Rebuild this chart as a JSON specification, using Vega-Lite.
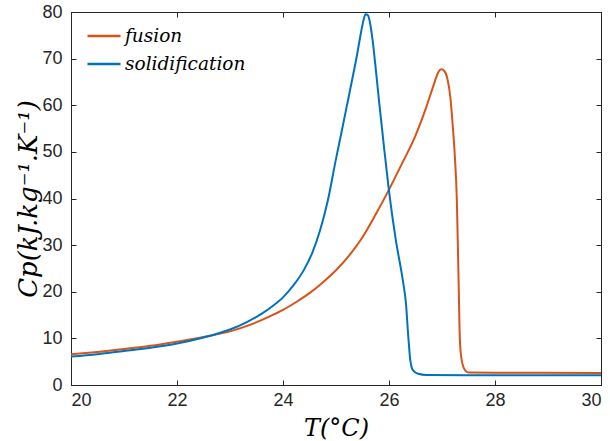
{
  "$schema": "https://vega.github.io/schema/vega-lite/v6.json",
  "width": 530,
  "height": 373,
  "autosize": {"type": "none"},
  "padding": {"left": 71, "top": 12, "right": 9, "bottom": 56},
  "background": "white",
  "config": {
    "view": {"stroke": "#262626", "strokeWidth": 1},
    "axis": {
      "domainColor": "#262626",
      "tickColor": "#262626",
      "labelColor": "#262626",
      "titleColor": "#000000",
      "labelFont": "Liberation Sans",
      "labelFontSize": 18,
      "grid": false,
      "tickSize": -5,
      "titleFont": "DejaVu Serif",
      "titleFontStyle": "italic",
      "titleFontWeight": "normal",
      "titleFontSize": 24
    }
  },
  "data": {
    "values": [
      {"series": "fusion", "T": 20, "Cp": 6.6},
      {"series": "fusion", "T": 20.5, "Cp": 7.1},
      {"series": "fusion", "T": 21, "Cp": 7.7},
      {"series": "fusion", "T": 21.5, "Cp": 8.4},
      {"series": "fusion", "T": 22, "Cp": 9.3},
      {"series": "fusion", "T": 22.5, "Cp": 10.3},
      {"series": "fusion", "T": 23, "Cp": 11.5},
      {"series": "fusion", "T": 23.4, "Cp": 13.0},
      {"series": "fusion", "T": 23.75, "Cp": 14.7},
      {"series": "fusion", "T": 24.0, "Cp": 16.1},
      {"series": "fusion", "T": 24.25, "Cp": 17.8},
      {"series": "fusion", "T": 24.5, "Cp": 19.7},
      {"series": "fusion", "T": 24.75, "Cp": 22.0},
      {"series": "fusion", "T": 25.0, "Cp": 24.6},
      {"series": "fusion", "T": 25.25, "Cp": 27.8},
      {"series": "fusion", "T": 25.5, "Cp": 31.7},
      {"series": "fusion", "T": 25.75, "Cp": 36.6},
      {"series": "fusion", "T": 26.0, "Cp": 41.9},
      {"series": "fusion", "T": 26.25, "Cp": 47.6},
      {"series": "fusion", "T": 26.5, "Cp": 53.5},
      {"series": "fusion", "T": 26.7, "Cp": 59.5},
      {"series": "fusion", "T": 26.85, "Cp": 64.6},
      {"series": "fusion", "T": 26.93, "Cp": 67.1},
      {"series": "fusion", "T": 26.99, "Cp": 67.7},
      {"series": "fusion", "T": 27.04, "Cp": 67.4},
      {"series": "fusion", "T": 27.1, "Cp": 65.8},
      {"series": "fusion", "T": 27.16, "Cp": 61.5},
      {"series": "fusion", "T": 27.2, "Cp": 56.0},
      {"series": "fusion", "T": 27.24, "Cp": 49.5},
      {"series": "fusion", "T": 27.28, "Cp": 39.7},
      {"series": "fusion", "T": 27.31, "Cp": 24},
      {"series": "fusion", "T": 27.34, "Cp": 9.0},
      {"series": "fusion", "T": 27.38, "Cp": 4.8},
      {"series": "fusion", "T": 27.44, "Cp": 3.1},
      {"series": "fusion", "T": 27.5, "Cp": 2.7},
      {"series": "fusion", "T": 28, "Cp": 2.65},
      {"series": "fusion", "T": 30, "Cp": 2.6},
      {"series": "solidification", "T": 20, "Cp": 6.1},
      {"series": "solidification", "T": 20.5, "Cp": 6.6},
      {"series": "solidification", "T": 21, "Cp": 7.3},
      {"series": "solidification", "T": 21.5, "Cp": 8.0},
      {"series": "solidification", "T": 22, "Cp": 8.9},
      {"series": "solidification", "T": 22.5, "Cp": 10.2},
      {"series": "solidification", "T": 23, "Cp": 11.9},
      {"series": "solidification", "T": 23.3, "Cp": 13.4},
      {"series": "solidification", "T": 23.6, "Cp": 15.3},
      {"series": "solidification", "T": 23.8, "Cp": 16.9},
      {"series": "solidification", "T": 24.0, "Cp": 18.8},
      {"series": "solidification", "T": 24.2, "Cp": 21.4},
      {"series": "solidification", "T": 24.4, "Cp": 24.8},
      {"series": "solidification", "T": 24.55, "Cp": 28.3},
      {"series": "solidification", "T": 24.7, "Cp": 33.2},
      {"series": "solidification", "T": 24.85, "Cp": 39.8},
      {"series": "solidification", "T": 25.0, "Cp": 48.5},
      {"series": "solidification", "T": 25.1, "Cp": 54.0},
      {"series": "solidification", "T": 25.2, "Cp": 59.6},
      {"series": "solidification", "T": 25.3, "Cp": 65.2},
      {"series": "solidification", "T": 25.4, "Cp": 71.0},
      {"series": "solidification", "T": 25.47, "Cp": 75.5},
      {"series": "solidification", "T": 25.52, "Cp": 78.3},
      {"series": "solidification", "T": 25.56, "Cp": 79.5},
      {"series": "solidification", "T": 25.6, "Cp": 79.3},
      {"series": "solidification", "T": 25.64, "Cp": 77.8},
      {"series": "solidification", "T": 25.69, "Cp": 74.0},
      {"series": "solidification", "T": 25.75, "Cp": 67.8},
      {"series": "solidification", "T": 25.81, "Cp": 61.1},
      {"series": "solidification", "T": 25.91, "Cp": 50.6},
      {"series": "solidification", "T": 26.0, "Cp": 41.6},
      {"series": "solidification", "T": 26.13, "Cp": 31.0},
      {"series": "solidification", "T": 26.26, "Cp": 22.5},
      {"series": "solidification", "T": 26.32, "Cp": 17.5},
      {"series": "solidification", "T": 26.36, "Cp": 11},
      {"series": "solidification", "T": 26.4, "Cp": 5.5},
      {"series": "solidification", "T": 26.45, "Cp": 3.2},
      {"series": "solidification", "T": 26.55, "Cp": 2.4},
      {"series": "solidification", "T": 26.7, "Cp": 2.15},
      {"series": "solidification", "T": 28, "Cp": 2.1},
      {"series": "solidification", "T": 30, "Cp": 2.1}
    ]
  },
  "layer": [
    {
      "mark": {"type": "line", "strokeWidth": 2, "interpolate": "monotone", "clip": true},
      "encoding": {
        "x": {"field": "T", "type": "quantitative", "scale": {"domain": [20, 30], "nice": false},
              "axis": {"title": "T(°C)", "values": [20, 22, 24, 26, 28, 30], "labelPadding": 11, "titlePadding": 7}},
        "y": {"field": "Cp", "type": "quantitative", "scale": {"domain": [0, 80], "nice": false},
              "axis": {"title": "Cp(kJ.kg⁻¹.K⁻¹)", "titleFontSize": 26, "values": [0, 10, 20, 30, 40, 50, 60, 70, 80], "labelPadding": 14, "titlePadding": 0}},
        "color": {"field": "series", "type": "nominal",
                  "scale": {"domain": ["fusion", "solidification"], "range": ["#D95319", "#0072BD"]},
                  "legend": {"title": null, "orient": "none", "legendX": 15, "legendY": 6,
                             "symbolType": "stroke", "symbolSize": 1089, "symbolStrokeWidth": 2.5,
                             "labelFont": "DejaVu Serif", "labelFontStyle": "italic", "labelFontSize": 18.5,
                             "labelColor": "#000000", "labelOffset": 3, "rowPadding": -9, "padding": 0}},
        "order": {"field": "T", "type": "quantitative"}
      }
    },
    {
      "mark": {"type": "line", "strokeOpacity": 0},
      "encoding": {
        "x": {"field": "T", "type": "quantitative",
              "axis": {"orient": "top", "title": null, "labels": false, "values": [20, 22, 24, 26, 28, 30]}},
        "y": {"field": "Cp", "type": "quantitative",
              "axis": {"orient": "right", "title": null, "labels": false, "values": [0, 10, 20, 30, 40, 50, 60, 70, 80]}},
        "detail": {"field": "series", "type": "nominal"}
      }
    }
  ],
  "resolve": {"axis": {"x": "independent", "y": "independent"}}
}
